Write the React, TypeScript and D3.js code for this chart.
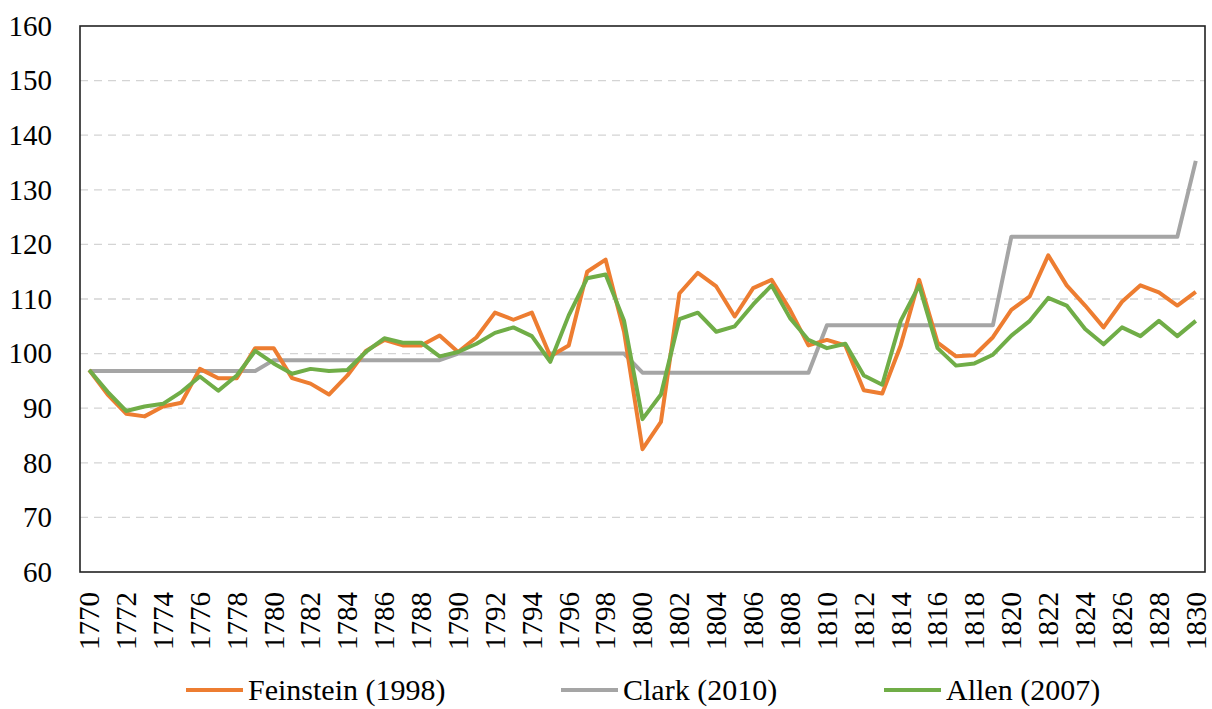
import React, { useEffect, useRef } from 'react';
import * as d3 from 'd3';

const years: number[] = d3.range(1770, 1831);

const feinstein: number[] = [
  97, 92.5, 89, 88.5, 90.3, 91, 97.2, 95.5, 95.5, 101,
  101, 95.5, 94.5, 92.5, 96, 100.5, 102.5, 101.5, 101.5, 103.3,
  100.3, 103, 107.5, 106.2, 107.5, 99.5, 101.5, 115, 117.2, 104,
  82.5, 87.5, 111, 114.8, 112.3, 106.8, 112, 113.5, 108, 101.5,
  102.5, 101.5, 93.3, 92.7, 101.5, 113.5, 102, 99.5, 99.7, 103,
  108, 110.5, 118, 112.5, 108.8, 104.8, 109.5, 112.5, 111.2, 108.8,
  111.3,
];

const clark: number[] = [
  96.8, 96.8, 96.8, 96.8, 96.8, 96.8, 96.8, 96.8, 96.8, 96.8,
  98.8, 98.8, 98.8, 98.8, 98.8, 98.8, 98.8, 98.8, 98.8, 98.8,
  100, 100, 100, 100, 100, 100, 100, 100, 100, 100,
  96.5, 96.5, 96.5, 96.5, 96.5, 96.5, 96.5, 96.5, 96.5, 96.5,
  105.2, 105.2, 105.2, 105.2, 105.2, 105.2, 105.2, 105.2, 105.2, 105.2,
  121.4, 121.4, 121.4, 121.4, 121.4, 121.4, 121.4, 121.4, 121.4, 121.4,
  135.3,
];

const allen: number[] = [
  97, 93, 89.5, 90.3, 90.8, 93, 95.8, 93.2, 96, 100.5,
  98.2, 96.3, 97.2, 96.8, 97, 100.3, 102.8, 102, 102, 99.5,
  100.3, 101.8, 103.8, 104.8, 103.2, 98.5, 107, 113.8, 114.5, 106,
  88, 92.5, 106.3, 107.5, 104, 105, 109, 112.5, 106.5, 102.5,
  101, 101.8, 96, 94.3, 106, 112.5, 101, 97.8, 98.2, 99.8,
  103.3, 106, 110.2, 108.8, 104.5, 101.7, 104.8, 103.2, 106, 103.2,
  106,
];

const yTicks: number[] = [60, 70, 80, 90, 100, 110, 120, 130, 140, 150, 160];

const series = [
  { name: 'Feinstein (1998)', values: feinstein, color: '#ED7D31', legendX: 186 },
  { name: 'Clark (2010)', values: clark, color: '#A5A5A5', legendX: 561 },
  { name: 'Allen (2007)', values: allen, color: '#70AD47', legendX: 884 },
];

const width = 1212;
const height = 709;
const left = 80;
const right = 1205;
const top = 26;
const bottom = 572;
const font = 'Liberation Serif';

function Chart() {
  const ref = useRef<SVGSVGElement>(null);

  useEffect(() => {
    const svg = d3.select(ref.current);
    svg.selectAll('*').remove();

    const x = d3.scalePoint<number>()
      .domain(years)
      .range([left, right])
      .padding(0.5);

    const y = d3.scaleLinear()
      .domain([60, 160])
      .range([bottom, top]);

    // gridlines
    svg.append('g')
      .selectAll('line')
      .data(yTicks.filter(t => t > 60 && t < 160))
      .enter()
      .append('line')
      .attr('x1', left)
      .attr('x2', right)
      .attr('y1', d => y(d))
      .attr('y2', d => y(d))
      .attr('stroke', '#d4d4d4')
      .attr('stroke-width', 1.3)
      .attr('stroke-dasharray', '8,6');

    // y labels
    svg.append('g')
      .selectAll('text')
      .data(yTicks)
      .enter()
      .append('text')
      .attr('x', 52)
      .attr('y', d => y(d))
      .attr('dy', '0.34em')
      .attr('text-anchor', 'end')
      .attr('font-family', font)
      .attr('font-size', 29)
      .attr('fill', '#000')
      .text(d => d);

    // x labels
    svg.append('g')
      .selectAll('text')
      .data(years.filter(d => d % 2 === 0))
      .enter()
      .append('text')
      .attr('transform', d => `translate(${x(d)},${bottom + 20}) rotate(-90)`)
      .attr('dy', '0.34em')
      .attr('text-anchor', 'end')
      .attr('font-family', font)
      .attr('font-size', 29)
      .attr('fill', '#000')
      .text(d => d);

    // lines
    const line = d3.line<number>()
      .x((d, i) => x(years[i]) as number)
      .y(d => y(d));

    const order = [series[1], series[0], series[2]];
    svg.append('g')
      .selectAll('path')
      .data(order)
      .enter()
      .append('path')
      .attr('d', d => line(d.values))
      .attr('fill', 'none')
      .attr('stroke', d => d.color)
      .attr('stroke-width', 4)
      .attr('stroke-linejoin', 'round');

    // frame
    svg.append('rect')
      .attr('x', left)
      .attr('y', top)
      .attr('width', right - left)
      .attr('height', bottom - top)
      .attr('fill', 'none')
      .attr('stroke', '#222')
      .attr('stroke-width', 1.6);

    // legend
    const lg = svg.append('g')
      .selectAll('g')
      .data(series)
      .enter()
      .append('g')
      .attr('transform', d => `translate(${d.legendX},690)`);
    lg.append('line')
      .attr('x1', 0)
      .attr('x2', 57)
      .attr('stroke', d => d.color)
      .attr('stroke-width', 4);
    lg.append('text')
      .attr('x', 62)
      .attr('dy', '0.34em')
      .attr('font-family', font)
      .attr('font-size', 30)
      .attr('fill', '#000')
      .text(d => d.name);
  }, []);

  return <svg ref={ref} width={width} height={height} style={{ display: 'block', background: '#fff' }} />;
}

export default function App() {
  return (
    <div style={{ position: 'fixed', left: 0, top: 0, background: '#fff' }}>
      <Chart />
    </div>
  );
}
